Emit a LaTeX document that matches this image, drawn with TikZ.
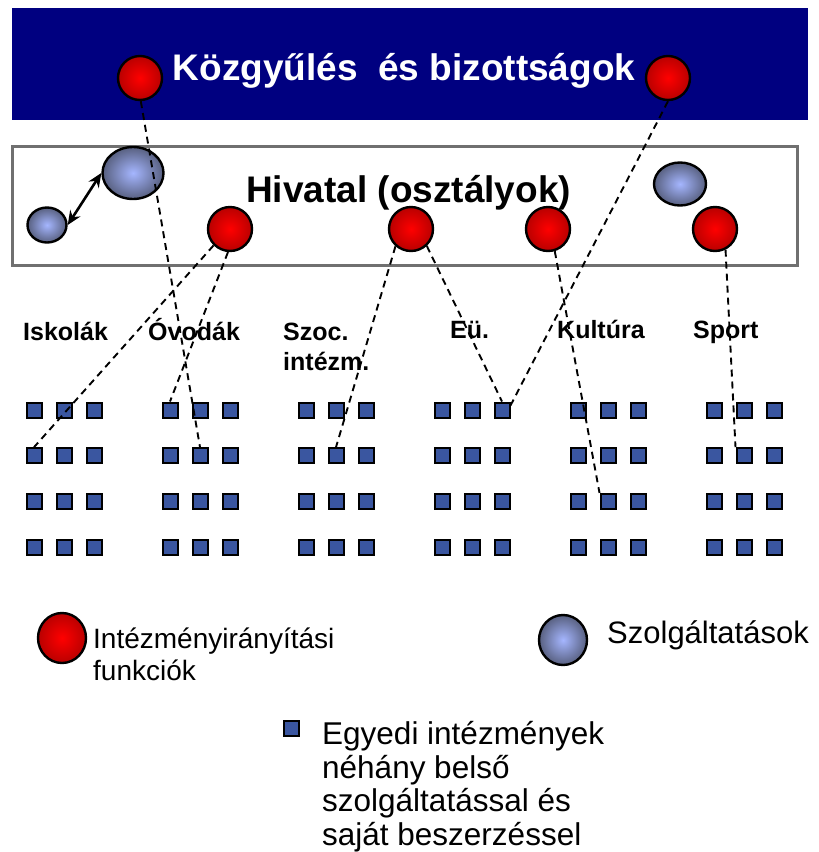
\documentclass[tikz,border=0pt]{standalone}
\usepackage{fontspec}
\setmainfont{Liberation Sans}
\usetikzlibrary{shapes.geometric,arrows.meta}
\definecolor{navyb}{RGB}{0,0,128}
\definecolor{boxgray}{RGB}{112,112,112}
\definecolor{redin}{RGB}{255,0,0}
\definecolor{redout}{RGB}{185,0,0}
\definecolor{bluein}{RGB}{165,182,255}
\definecolor{blueout}{RGB}{88,96,128}
\definecolor{sqfill}{RGB}{58,86,160}
\begin{document}
\begin{tikzpicture}[x=1pt,y=-1pt,
  redball/.style={circle,draw=black,line width=2.4pt,inner color=redin,outer color=redout,minimum size=44pt,inner sep=0pt},
  blueball/.style={ellipse,draw=black,line width=2.4pt,inner color=bluein,outer color=blueout,inner sep=0pt},
  sqbox/.style={rectangle,draw=black,line width=2pt,fill=sqfill,minimum size=15pt,inner sep=0pt},
  conn/.style={draw=black,line width=1.9pt,dash pattern=on 7pt off 5pt},
  lbl/.style={font=\fontsize{25}{30}\selectfont\bfseries,anchor=base west,inner sep=0pt},
  legtxt/.style={anchor=base west,inner sep=0pt,align=left},
]
\useasboundingbox (0,0) rectangle (819,852);
\fill[white] (0,0) rectangle (819,852);
% banner
\fill[navyb] (12,8) rectangle (808,120);
\node[text=white,font=\fontsize{37}{44}\selectfont\bfseries,anchor=base,inner sep=0pt] (title) at (404,80) {Közgyűlés\ \ és bizottságok};
% office box
\draw[boxgray,line width=3pt] (12,146) rectangle (797,265);
\node[font=\fontsize{37}{44}\selectfont\bfseries,anchor=base west,inner sep=0pt] (hiv) at (246,202) {Hivatal (osztályok)};
% circles
\node[redball] (rtl) at (140,78) {};
\node[redball] (rtr) at (668,78) {};
\node[redball] (r1) at (230,229) {};
\node[redball] (r2) at (411,229) {};
\node[redball] (r3) at (548,229) {};
\node[redball] (r4) at (715,229) {};
\node[blueball,minimum width=61pt,minimum height=52pt] (bbig) at (133,173) {};
\node[blueball,minimum width=39pt,minimum height=35pt] (bsl) at (47,225) {};
\node[blueball,minimum width=52pt,minimum height=43pt] (bright) at (680,184) {};
\draw[line width=2.6pt,{Stealth[length=14pt,width=12pt]}-{Stealth[length=14pt,width=12pt]}] (bsl.east) -- (bbig.west);
% labels
\node[lbl] (isk) at (23,340) {Iskolák};
\node[lbl] (ovo) at (148,340) {Óvodák};
\node[lbl] (szoc) at (283,340) {Szoc.};
\node[lbl] (szoc2) at (283,370) {intézm.};
\node[lbl] (eu) at (450,338) {Eü.};
\node[lbl] (kult) at (557,338) {Kultúra};
\node[lbl] (sport) at (693,338) {Sport};
% squares
\foreach \g in {0,...,5}
  \foreach \c in {0,1,2}
    \foreach \r in {0,...,3}
      \node[sqbox] (s-\g-\c-\r) at ({34+136*\g+30*\c},{410+45.7*\r}) {};
% connectors
\draw[conn] (rtl.-88) -- (s-1-1-1.north);
\draw[conn] (r1.-135) -- (s-0-0-1.north);
\draw[conn] (r1.-95) -- (s-1-0-0.north);
\draw[conn] (r2.-132) -- (s-2-1-1.north);
\draw[conn] (r2.-47) -- (s-3-2-0.north);
\draw[conn] (rtr.-90) -- ([yshift=-4pt]s-3-2-0.north east);
\draw[conn] (r3.-73) -- (s-4-1-2.north west);
\draw[conn] (r4.-63) -- (s-5-1-1.north west);
% legend
\node[redball,minimum width=48pt,minimum height=50pt,ellipse] (lr) at (62,638) {};
\node[legtxt,font=\fontsize{28}{32}\selectfont] (lrt) at (93,680) {Intézményirányítási\\funkciók};
\node[blueball,minimum width=48pt,minimum height=50pt] (lb) at (563,640) {};
\node[legtxt,font=\fontsize{31}{35}\selectfont] (lbt) at (607,643) {Szolgáltatások};
\node[sqbox] (lsq) at (291,728) {};
\node[legtxt,font=\fontsize{31.5}{33.5}\selectfont] (lst) at (322,845) {Egyedi intézmények\\néhány belső\\szolgáltatással és\\saját beszerzéssel};
\end{tikzpicture}
\end{document}
